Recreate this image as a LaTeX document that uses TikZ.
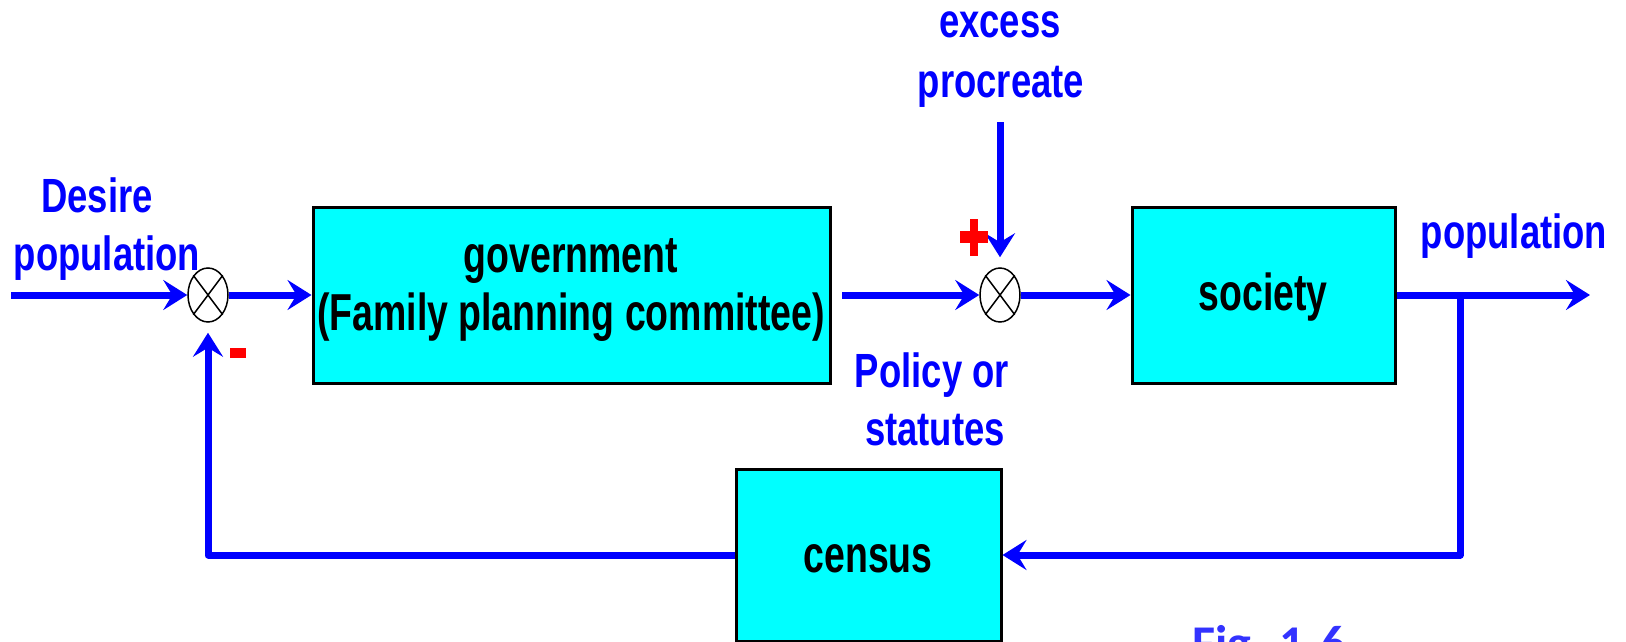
\documentclass[tikz,border=0pt]{standalone}
\usepackage{fontspec}
\usetikzlibrary{arrows.meta,shapes.geometric}
\newfontfamily\narrowsans[FakeStretch=0.76]{Liberation Sans}
\newfontfamily\narrowersans[FakeStretch=0.72]{Liberation Sans}
\newfontfamily\figfont{Carlito}
\definecolor{sigblue}{RGB}{0,0,255}
\definecolor{boxcyan}{RGB}{0,255,255}
\definecolor{figblue}{RGB}{51,51,255}
\definecolor{signred}{RGB}{255,0,0}

\begin{document}
\begin{tikzpicture}[x=1pt,y=-1pt,
  block/.style={draw=black,line width=3pt,fill=boxcyan,rectangle,inner sep=0pt},
  sumjunction/.style={draw=black,line width=1.5pt,ellipse,minimum width=40pt,minimum height=54pt,inner sep=0pt,fill=white},
  wire/.style={draw=sigblue,line width=7pt,line join=round},
  signal/.style={wire,-{Stealth[length=24pt,width=30pt,inset=9pt]}},
  bluelbl/.style={text=sigblue,font=\narrowsans\bfseries\fontsize{48}{56}\selectfont,anchor=base,inner sep=0pt},
  blacklbl/.style={text=black,font=\narrowersans\bfseries\fontsize{52}{60}\selectfont,anchor=base,inner sep=0pt},
]
\useasboundingbox[fill=white] (0,0) rectangle (1626,642);

% blocks
\node[block,minimum width=517pt,minimum height=176pt] (gov) at (571.5,295) {};
\node[block,minimum width=263pt,minimum height=176pt] (soc) at (1263.5,295) {};
\node[block,minimum width=265pt,minimum height=172pt] (cen) at (868.5,555) {};

\node[blacklbl] (govA) at (571,272) {government};
\node[blacklbl] (govB) at (571,330) {(Family planning committee)};
\node[blacklbl] (socT) at (1263,310) {society};
\node[blacklbl] (cenT) at (868,572) {census};

% summing junctions
\node[sumjunction] (s1) at (208,295) {};
\node[sumjunction] (s2) at (1000,295) {};
\foreach \s in {s1,s2}{
  \draw[line width=1.5pt] (\s.north east) -- (\s.south west);
  \draw[line width=1.5pt] (\s.north west) -- (\s.south east);
}

% free ends and corners of the signal lines
\coordinate (inleft) at (11,295);
\coordinate (govout) at (842,295);
\coordinate (outend) at (1590,295);
\coordinate (distop) at (1000,122);
\coordinate (branch) at (1460,295);
\coordinate (brcorner) at (1460,555);
\coordinate (fbcorner) at (208,555);

% forward path
\draw[signal] (inleft) -- (s1.west);
\draw[signal] (s1.east) -- (gov.west);
\draw[signal] (govout) -- (s2.west);
\draw[signal] (s2.east) -- (soc.west);
\draw[signal] (soc.east) -- (outend);
\draw[signal,shorten >=10pt] (distop) -- (s2.north);

% feedback path
\draw[signal] (branch) -- (brcorner) -- (cen.east);
\draw[signal,shorten >=10pt] (cen.west) -- (fbcorner) -- (s1.south);

% signs
\fill[signred] (960,231) rectangle (988,243);
\fill[signred] (970,219) rectangle (978,256);
\fill[signred] (230,348) rectangle (246,358);

% signal labels
\node[bluelbl] (desA) at (97,212) {Desire};
\node[bluelbl] (desB) at (107,270) {population};
\node[bluelbl] (excA) at (1000,38) {excess};
\node[bluelbl] (excB) at (1001,97) {procreate};
\node[bluelbl] (polA) at (932,387) {Policy or};
\node[bluelbl] (polB) at (935,445) {statutes};
\node[bluelbl] (outT) at (1514,248) {population};

% caption
\node[anchor=base west,text=figblue,font=\figfont\bfseries\fontsize{50}{60}\selectfont,inner sep=0pt] (figcap) at (1192,660) {Fig. 1-6};
\end{tikzpicture}
\end{document}
